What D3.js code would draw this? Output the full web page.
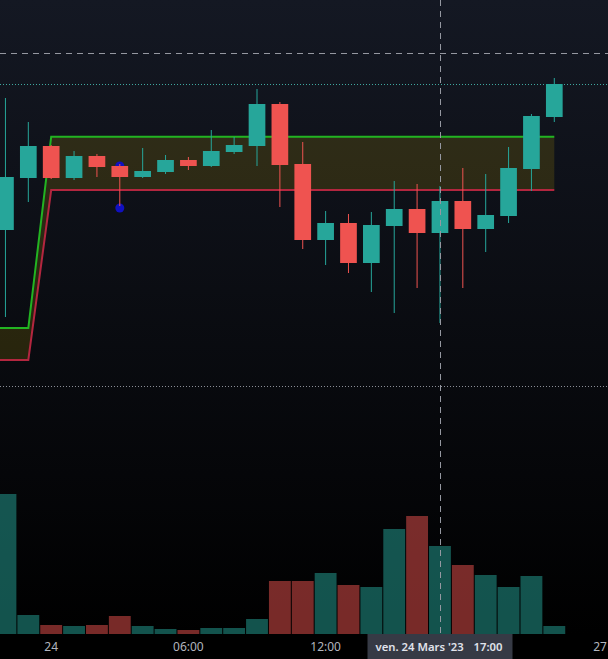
<!DOCTYPE html>
<html>
<head>
<meta charset="utf-8">
<script src="https://cdn.jsdelivr.net/npm/d3@7"></script>
<style>
  html, body { margin: 0; padding: 0; background: #000; }
  svg { display: block; }
</style>
</head>
<body>
<svg id="chart" width="608" height="659"></svg>
<script>
// ---- data (hourly candles, index 0 = 23 Mars 22:00) ----
const opens   = [27.0, 32.2, 35.4, 32.2, 34.4, 33.4, 32.3, 32.8, 34.0, 33.4, 34.8, 35.4, 39.6, 33.6, 26.0, 27.7, 23.7, 27.4, 29.1, 26.7, 29.9, 27.1, 28.4, 33.1, 38.3];
const highs   = [40.2, 37.8, 35.5, 34.9, 34.6, 33.6, 35.2, 34.5, 34.3, 37.0, 36.3, 41.1, 39.8, 35.8, 28.9, 28.6, 28.8, 31.9, 31.6, 31.4, 33.2, 32.6, 35.3, 38.6, 42.2];
const lows    = [18.3, 29.8, 32.1, 32.0, 32.3, 29.4, 32.2, 32.6, 33.0, 33.3, 34.6, 33.4, 29.3, 25.1, 23.5, 22.7, 20.8, 18.7, 21.2, 17.7, 21.2, 24.8, 27.7, 30.9, 37.8];
const closes  = [32.3, 35.4, 32.2, 34.4, 33.3, 32.3, 32.9, 34.0, 33.4, 34.9, 35.5, 39.6, 33.5, 26.0, 27.7, 23.7, 27.5, 29.1, 26.7, 29.9, 27.1, 28.5, 33.2, 38.4, 41.6];
const volumes = [140, 19, 9, 8, 9, 18, 8, 5, 4, 6, 6, 15, 53, 53, 61, 49, 47, 105, 118, 88, 69, 59, 47, 58, 8];

// band indicator (starts one bar before the first visible candle)
const bandStartIndex = -1;
const bandUpper = [17.2, 17.2, 17.2, 36.33, 36.33, 36.33, 36.33, 36.33, 36.33, 36.33, 36.33, 36.33, 36.33, 36.33, 36.33, 36.33, 36.33, 36.33, 36.33, 36.33, 36.33, 36.33, 36.33, 36.33, 36.33, 36.33];
const bandLower = [14.0, 14.0, 14.0, 31.0, 31.0, 31.0, 31.0, 31.0, 31.0, 31.0, 31.0, 31.0, 31.0, 31.0, 31.0, 31.0, 31.0, 31.0, 31.0, 31.0, 31.0, 31.0, 31.0, 31.0, 31.0, 31.0];

// marker dots
const dotIndex = [5, 5];
const dotPrice = [33.4, 29.2];

// horizontal lines
const lastPrice = 41.6;
const grayLevel = 11.4;
const crosshairPrice = 44.67;
const crosshairIndex = 19;

// time axis
const tickIndex  = [2, 8, 14, 26];
const tickLabels = ["24", "06:00", "12:00", "27"];
const crosshairLabelDate = "ven. 24 Mars '23";
const crosshairLabelTime = "17:00";

// ---- layout ----
const W = 608, H = 659;
const paneBottom = 634;
const svg = d3.select("#chart");

const x = d3.scaleLinear().domain([0, 24]).range([5.45, 554.3]);
const step = x(1) - x(0);
const y = d3.scaleLinear().domain([0, 50]).range([500, 0]);
const yVol = d3.scaleLinear().domain([0, 140]).range([paneBottom, 494]);

const UP = "#26a69a", DOWN = "#ef5350";
const UPV = "rgba(38,166,154,0.5)", DOWNV = "rgba(239,83,80,0.5)";

// background gradient
const defs = svg.append("defs");
const grad = defs.append("linearGradient").attr("id", "bg").attr("x1", 0).attr("y1", 0).attr("x2", 0).attr("y2", 1);
grad.append("stop").attr("offset", "0%").attr("stop-color", "#141823");
grad.append("stop").attr("offset", "100%").attr("stop-color", "#000000");
defs.append("clipPath").attr("id", "pane").append("rect").attr("x", 0).attr("y", 0).attr("width", W).attr("height", paneBottom);

svg.append("rect").attr("width", W).attr("height", paneBottom).attr("fill", "url(#bg)");
svg.append("rect").attr("y", paneBottom).attr("width", W).attr("height", H - paneBottom).attr("fill", "#000");

const pane = svg.append("g").attr("clip-path", "url(#pane)");

// band
const bandData = bandUpper.map((u, k) => ({ i: bandStartIndex + k, u, l: bandLower[k] }));
pane.append("path").datum(bandData)
  .attr("fill", "rgba(255,214,0,0.13)")
  .attr("d", d3.area().x(d => x(d.i)).y0(d => y(d.l)).y1(d => y(d.u)));
pane.append("path").datum(bandData)
  .attr("fill", "none").attr("stroke", "#22b422").attr("stroke-width", 2)
  .attr("d", d3.line().x(d => x(d.i)).y(d => y(d.u)));
pane.append("path").datum(bandData)
  .attr("fill", "none").attr("stroke", "#b3263f").attr("stroke-width", 2)
  .attr("d", d3.line().x(d => x(d.i)).y(d => y(d.l)));

// dotted level lines
pane.append("line").attr("x1", 0).attr("x2", W)
  .attr("y1", Math.round(y(lastPrice)) + 0.5).attr("y2", Math.round(y(lastPrice)) + 0.5)
  .attr("stroke", "#3fa8a0").attr("stroke-width", 1).attr("stroke-dasharray", "1,2");
pane.append("line").attr("x1", 0).attr("x2", W)
  .attr("y1", Math.round(y(grayLevel)) + 0.5).attr("y2", Math.round(y(grayLevel)) + 0.5)
  .attr("stroke", "#8a8d96").attr("stroke-width", 1).attr("stroke-dasharray", "1,2");

// volume
const bars = opens.map((o, i) => ({ i, o, c: closes[i], h: highs[i], l: lows[i], v: volumes[i] }));
pane.selectAll("rect.vol").data(bars).join("rect").attr("class", "vol")
  .attr("x", d => x(d.i) - step / 2 + 0.5)
  .attr("width", step - 1)
  .attr("y", d => yVol(d.v))
  .attr("height", d => yVol(0) - yVol(d.v))
  .attr("fill", d => d.c >= d.o ? UPV : DOWNV);

// dots
pane.selectAll("circle.dot").data(dotIndex.map((i, k) => ({ i, p: dotPrice[k] }))).join("circle")
  .attr("class", "dot")
  .attr("cx", d => x(d.i)).attr("cy", d => y(d.p)).attr("r", 4.5)
  .attr("fill", "#1010c0");

// candles
const bodyW = step * 0.73;
pane.selectAll("line.wick").data(bars).join("line").attr("class", "wick")
  .attr("x1", d => x(d.i)).attr("x2", d => x(d.i))
  .attr("y1", d => y(d.h)).attr("y2", d => y(d.l))
  .attr("stroke", d => d.c >= d.o ? UP : DOWN).attr("stroke-width", 1);
pane.selectAll("rect.body").data(bars).join("rect").attr("class", "body")
  .attr("x", d => x(d.i) - bodyW / 2)
  .attr("width", bodyW)
  .attr("y", d => y(Math.max(d.o, d.c)))
  .attr("height", d => Math.max(1, Math.abs(y(d.o) - y(d.c))))
  .attr("fill", d => d.c >= d.o ? UP : DOWN);

// crosshair
const cx = Math.round(x(crosshairIndex)) + 0.5;
const cy = Math.round(y(crosshairPrice)) + 0.5;
svg.append("line").attr("x1", cx).attr("x2", cx).attr("y1", 0).attr("y2", paneBottom)
  .attr("stroke", "#9598a1").attr("stroke-width", 1).attr("stroke-dasharray", "6,5");
svg.append("line").attr("x1", 0).attr("x2", W).attr("y1", cy).attr("y2", cy)
  .attr("stroke", "#9598a1").attr("stroke-width", 1).attr("stroke-dasharray", "6,5");

// time axis
const axisG = svg.append("g");
axisG.selectAll("text.tick").data(tickIndex.map((i, k) => ({ i, t: tickLabels[k] }))).join("text")
  .attr("class", "tick")
  .attr("x", d => x(d.i)).attr("y", 651)
  .attr("text-anchor", "middle")
  .attr("font-family", "'Noto Sans', Roboto, sans-serif").attr("font-size", 12)
  .attr("fill", "#b2b5be")
  .text(d => d.t);

// crosshair time label
const lblG = svg.append("g");
lblG.append("rect").attr("x", cx - 73).attr("y", paneBottom).attr("width", 145).attr("height", H - paneBottom)
  .attr("fill", "#363a45");
lblG.append("text").attr("x", cx - 65).attr("y", 651)
  .attr("font-family", "'Noto Sans', Roboto, sans-serif").attr("font-size", 11.3).attr("font-weight", 600)
  .attr("fill", "#e0e3eb")
  .text(crosshairLabelDate);
lblG.append("text").attr("x", cx + 62).attr("y", 651).attr("text-anchor", "end")
  .attr("font-family", "'Noto Sans', Roboto, sans-serif").attr("font-size", 11.3).attr("font-weight", 600)
  .attr("fill", "#e0e3eb")
  .text(crosshairLabelTime);
</script>
</body>
</html>
